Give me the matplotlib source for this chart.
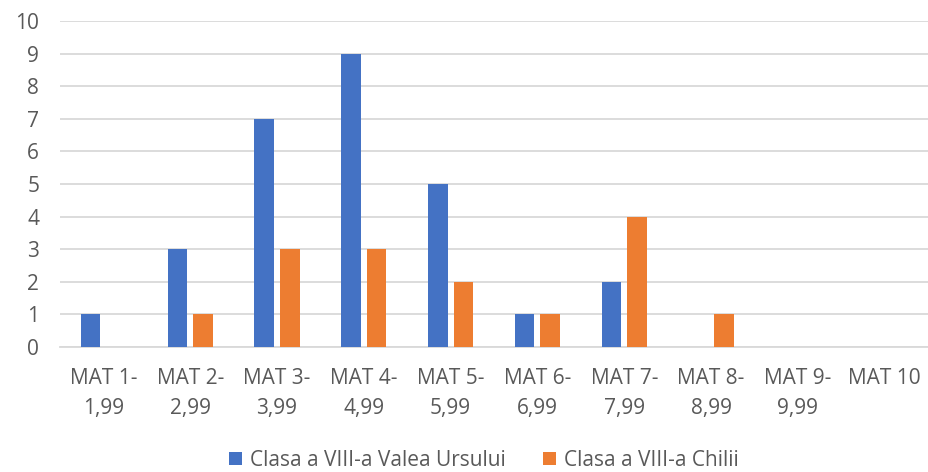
import matplotlib
matplotlib.use("Agg")
import matplotlib.pyplot as plt
import numpy as np

categories = ["MAT 1-\n1,99", "MAT 2-\n2,99", "MAT 3-\n3,99", "MAT 4-\n4,99", "MAT 5-\n5,99",
              "MAT 6-\n6,99", "MAT 7-\n7,99", "MAT 8-\n8,99", "MAT 9-\n9,99", "MAT 10"]
valea_ursului = [1, 3, 7, 9, 5, 1, 2, 0, 0, 0]
chilii = [0, 1, 3, 3, 2, 1, 4, 1, 0, 0]
series_names = ["Clasa a VIII-a Valea Ursului", "Clasa a VIII-a Chilii"]
yticks = list(range(0, 11))

plt.rcParams['font.family'] = ['Open Sans', 'DejaVu Sans']
text_color = "#595959"
grid_color = "#d9d9d9"
fs = 15

fig = plt.figure(figsize=(9.29, 4.72), dpi=100)
ax = fig.add_axes([0.0646, 0.2648, 0.9344, 0.6907])

x = np.arange(len(categories))
w = 0.225
off = 0.1475
ax.bar(x - off, valea_ursului, width=w, color="#4472C4", label=series_names[0], zorder=3)
ax.bar(x + off, chilii, width=w, color="#ED7D31", label=series_names[1], zorder=3)

ax.set_xlim(-0.5, len(categories) - 0.5)
ax.set_ylim(0, 10)
ax.set_yticks(yticks)
ax.yaxis.grid(True, color=grid_color, linewidth=1.3, zorder=0)
ax.set_axisbelow(True)
for s in ["top", "right", "left"]:
    ax.spines[s].set_visible(False)
ax.spines["bottom"].set_color(grid_color)
ax.spines["bottom"].set_linewidth(1.3)
ax.tick_params(axis="both", length=0, colors=text_color, labelsize=fs)
ax.tick_params(axis="y", pad=15)
ax.tick_params(axis="x", pad=15)
ax.set_xticks(x)
ax.set_xticklabels(categories, linespacing=1.55)

handles, labels = ax.get_legend_handles_labels()
fig.legend(handles, labels, loc="center", bbox_to_anchor=(0.521, 0.025), ncol=2, frameon=False,
           fontsize=fs, labelcolor=text_color, handlelength=0.6, handleheight=0.6,
           handletextpad=0.4, columnspacing=1.8, borderaxespad=0)

fig.savefig("out.png", dpi=100)
